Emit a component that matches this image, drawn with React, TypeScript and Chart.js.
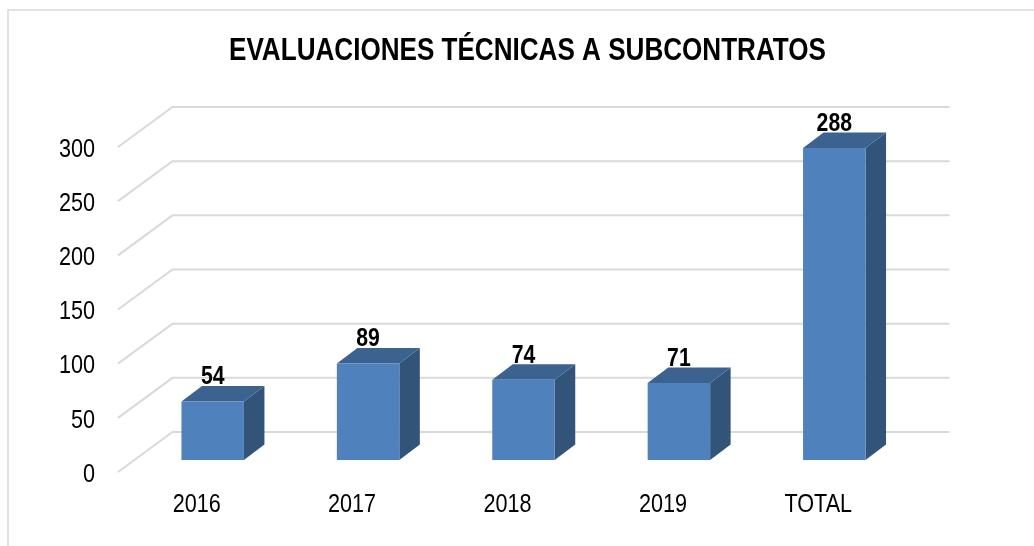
import React, { useEffect, useRef } from "react";
import { Chart, registerables } from "chart.js";

Chart.register(...registerables);

const TITLE = "EVALUACIONES TÉCNICAS A SUBCONTRATOS";
const categories = ["2016", "2017", "2018", "2019", "TOTAL"];
const values = [54, 89, 74, 71, 288];
const yMax = 300;
const yStep = 50;

const FONT = '"Liberation Sans", Arial, sans-serif';
const FRONT = "#4F81BD";
const TOP = "#3C6290";
const SIDE = "#325479";
const GRID = "#D9D9D9";
const TEXT_SQUEEZE = 0.815;

// 3D projection offsets relative to the chart's front-of-bar plane
const BAR_DX = 20.5;
const BAR_DY = 15.5;
const WALL_DX = 37.5;
const WALL_DY = 28;
const FLOOR_DX = 17;
const FLOOR_DY = 12;
const TITLE_SHIFT = 71.5;

const depthPlugin = {
  id: "depth",
  afterLayout(chart: any) {
    const t = chart.titleBlock;
    if (t) {
      t.left += TITLE_SHIFT;
      t.right += TITLE_SHIFT;
    }
  },
  beforeDraw(chart: any) {
    const ctx = chart.ctx;
    // Arial-Narrow look: condense every text run horizontally
    if (!ctx.__squeezed) {
      const orig = ctx.fillText.bind(ctx);
      ctx.fillText = (t: string, x: number, y: number) =>
        orig(t, x, y, ctx.measureText(t).width * TEXT_SQUEEZE);
      ctx.__squeezed = true;
    }
    ctx.save();
    ctx.strokeStyle = GRID;
    ctx.lineWidth = 1.5;
    ctx.beginPath();
    ctx.moveTo(8, 546);
    ctx.lineTo(8, 10);
    ctx.lineTo(1034, 10);
    ctx.stroke();
    ctx.restore();
  },
  beforeDatasetsDraw(chart: any) {
    const { ctx, chartArea, scales } = chart;
    const y = scales.y;
    ctx.save();
    ctx.strokeStyle = GRID;
    ctx.lineWidth = 2;
    ctx.lineJoin = "miter";
    for (const t of y.ticks) {
      const py = y.getPixelForValue(t.value);
      ctx.beginPath();
      ctx.moveTo(chartArea.left - FLOOR_DX, py + FLOOR_DY);
      ctx.lineTo(chartArea.left + WALL_DX, py - WALL_DY);
      ctx.lineTo(chartArea.right + WALL_DX, py - WALL_DY);
      ctx.stroke();
    }
    const meta = chart.getDatasetMeta(0);
    for (const bar of meta.data) {
      const { x, y: top, base, width } = bar.getProps(["x", "y", "base", "width"], true);
      const l = x - width / 2;
      const r = x + width / 2;
      ctx.fillStyle = SIDE;
      ctx.beginPath();
      ctx.moveTo(r, top);
      ctx.lineTo(r + BAR_DX, top - BAR_DY);
      ctx.lineTo(r + BAR_DX, base - BAR_DY);
      ctx.lineTo(r, base);
      ctx.closePath();
      ctx.fill();
      ctx.fillStyle = TOP;
      ctx.beginPath();
      ctx.moveTo(l, top);
      ctx.lineTo(l + BAR_DX, top - BAR_DY);
      ctx.lineTo(r + BAR_DX, top - BAR_DY);
      ctx.lineTo(r, top);
      ctx.closePath();
      ctx.fill();
    }
    ctx.restore();
  },
  afterDatasetsDraw(chart: any) {
    const { ctx } = chart;
    const meta = chart.getDatasetMeta(0);
    ctx.save();
    ctx.font = `bold 26px ${FONT}`;
    ctx.fillStyle = "#000";
    ctx.textAlign = "center";
    ctx.textBaseline = "middle";
    meta.data.forEach((bar: any, i: number) => {
      ctx.fillText(String(values[i]), bar.x, bar.y - 24.5);
    });
    ctx.restore();
  },
};

export default function App() {
  const ref = useRef<HTMLCanvasElement>(null);
  useEffect(() => {
    document.body.style.margin = "0";
    const chart = new Chart(ref.current as HTMLCanvasElement, {
      type: "bar",
      data: {
        labels: categories,
        datasets: [
          {
            data: values,
            backgroundColor: FRONT,
            borderWidth: 0,
            barPercentage: 0.402,
            categoryPercentage: 1,
          },
        ],
      },
      plugins: [depthPlugin],
      options: {
        animation: false,
        responsive: false,
        layout: { padding: { left: 0, right: 122, top: 0, bottom: 0 } },
        plugins: {
          legend: { display: false },
          tooltip: { enabled: false },
          title: {
            display: true,
            text: TITLE,
            color: "#000",
            font: { family: FONT, size: 32, weight: "bold", lineHeight: 1.2 },
            padding: { top: 32, bottom: 64.6 },
          },
        },
        scales: {
          x: {
            grid: { display: false, drawTicks: false },
            border: { display: false },
            afterFit(s: any) {
              s.height = 86;
            },
            ticks: {
              color: "#000",
              font: { family: FONT, size: 26.5 },
              padding: 29,
              labelOffset: -16,
              maxRotation: 0,
            },
          },
          y: {
            min: 0,
            max: yMax,
            grid: { display: false, drawTicks: false },
            border: { display: false },
            afterFit(s: any) {
              s.width = 135;
            },
            ticks: {
              stepSize: yStep,
              color: "#000",
              font: { family: FONT, size: 26.5 },
              padding: 40,
              labelOffset: 14.5,
            },
          },
        },
      },
    } as any);
    return () => chart.destroy();
  }, []);
  return <canvas ref={ref} width={1034} height={546} style={{ display: "block" }} />;
}
